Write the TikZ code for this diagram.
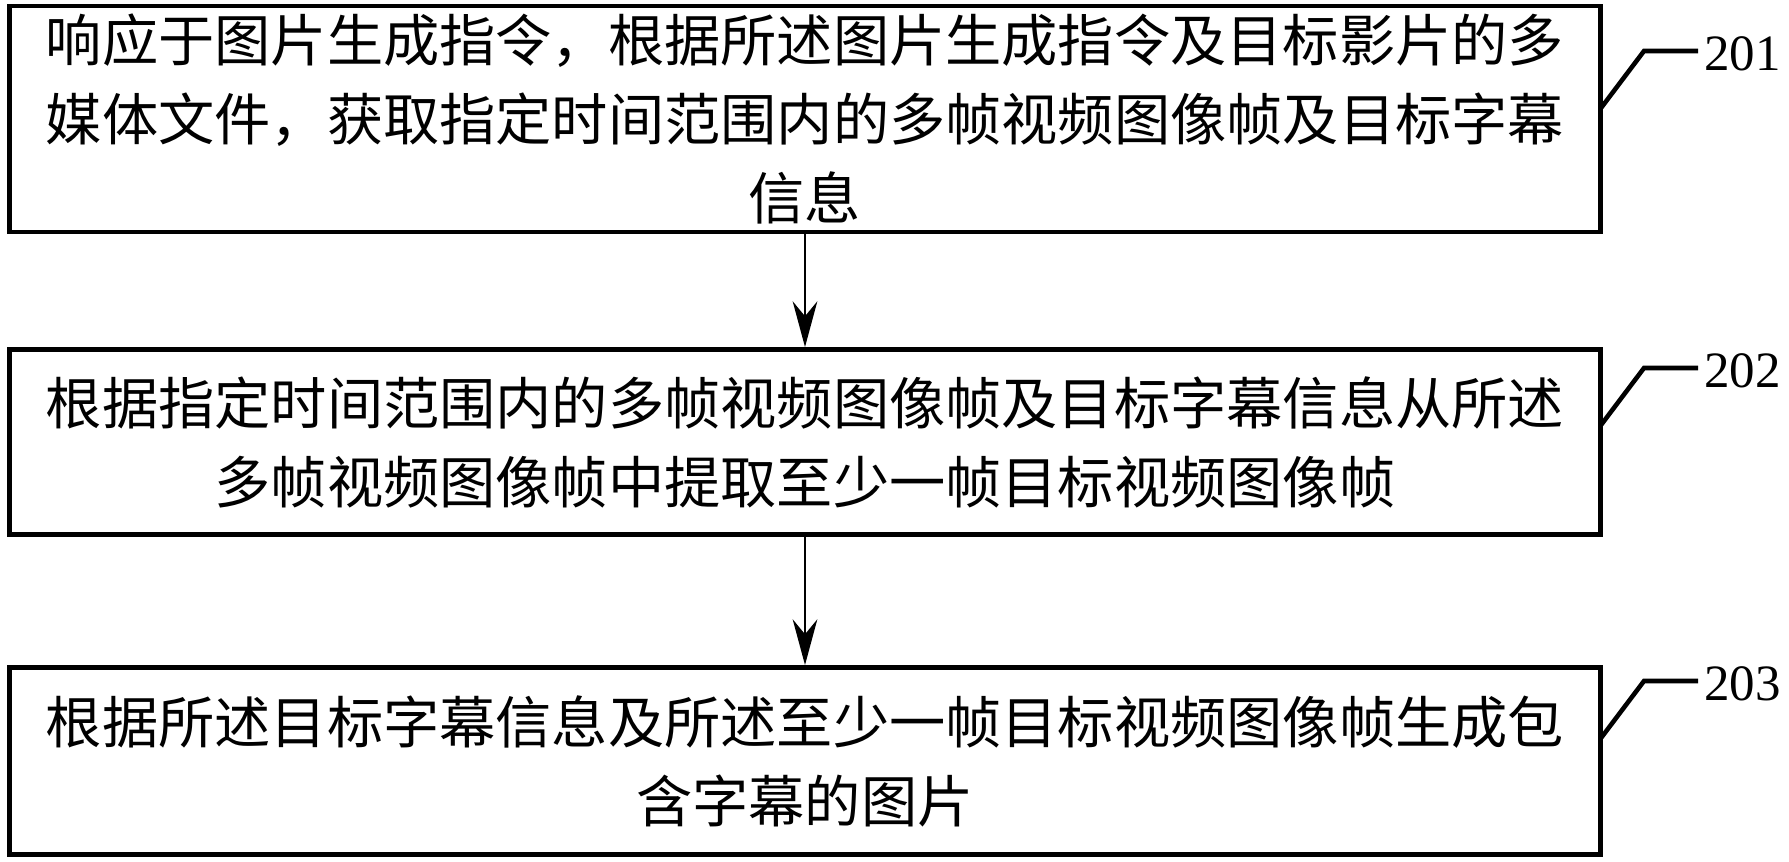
\documentclass[tikz,border=0pt]{standalone}
\usepackage{fontspec}
\setmainfont{Liberation Serif}
\newfontfamily\cjk{Noto Sans CJK SC}
\usetikzlibrary{arrows.meta,positioning}
\tikzset{
	stepbox/.style={draw,line width=2.8pt,minimum width=31.84cm,align=center,
		font=\cjk\fontsize{32}{45}\selectfont,inner sep=0pt},
	flow/.style={-{Stealth[length=26pt,width=14pt]},line width=1.6pt},
	leader/.style={line width=2.6pt},
	steplabel/.style={font=\fontsize{29}{32}\selectfont,anchor=west,inner sep=0pt}
}
\begin{document}
\begin{tikzpicture}[x=0.02cm,y=-0.02cm]
	\useasboundingbox (0,0) rectangle (1789,862);
	
	\node [stepbox,minimum height=4.52cm] (s201) at (805,119) {响应于图片生成指令，根据所述图片生成指令及目标影片的多\\媒体文件，获取指定时间范围内的多帧视频图像帧及目标字幕\\信息};
	\node [stepbox,minimum height=3.7cm] (s202) at (805,442) {根据指定时间范围内的多帧视频图像帧及目标字幕信息从所述\\多帧视频图像帧中提取至少一帧目标视频图像帧};
	\node [stepbox,minimum height=3.74cm] (s203) at (805,761) {根据所述目标字幕信息及所述至少一帧目标视频图像帧生成包\\含字幕的图片};
	
	%%%%%%%%%%%%%%%%%%%%%%%%%%%%%%%%%%%%%%%%%%%%%%%%%%%%%%
	
	\draw [flow] (s201.south) -- (s202.north);
	\draw [flow] (s202.south) -- (s203.north);
	
	%%%%%%%%%%%%%%%%%%%%%%%%%%%%%%%%%%%%%%%%%%%%%%%%%%%%%%
	
	\foreach \s/\y in {s201/51,s202/368,s203/681} {
		\coordinate (\s-turn) at (1644,\y);
		\coordinate (\s-end) at (1698,\y);
		\coordinate (\s-start) at (1601,\y+57);
		\draw [leader] (\s-start) -- (\s-turn) -- (\s-end);
	}
	\node [steplabel] (l201) at (1704,54) {201};
	\node [steplabel] (l202) at (1704,371) {202};
	\node [steplabel] (l203) at (1704,684) {203};
	
\end{tikzpicture}
\end{document}
